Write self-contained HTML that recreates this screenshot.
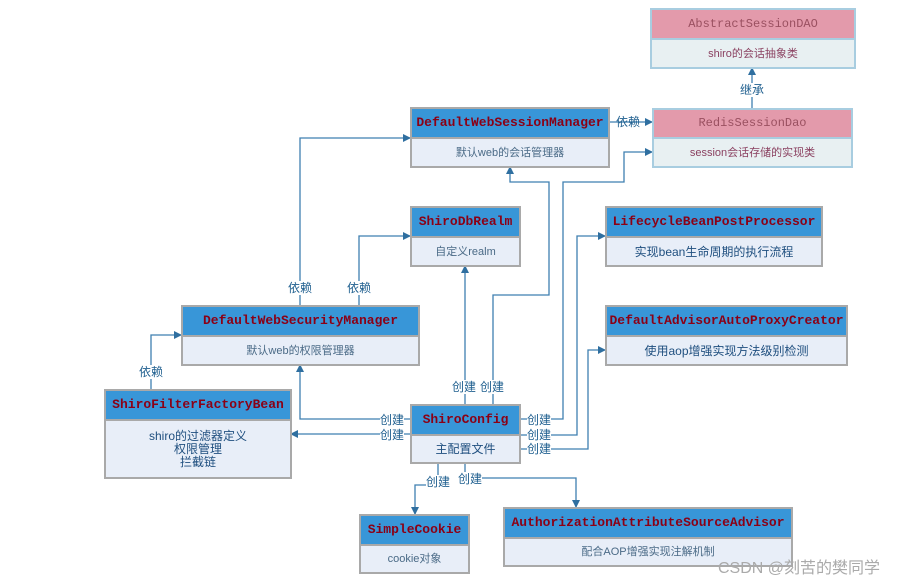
<!DOCTYPE html>
<html><head><meta charset="utf-8"><style>
body{margin:0;width:924px;height:585px;background:#fff;position:relative;overflow:hidden;font-family:"Liberation Sans","Noto Sans CJK SC",sans-serif}
.b{position:absolute;box-sizing:border-box;border:2px solid #a9a9a9;background:#e8eef8}
.b .h{background:#3896d8;color:#8b0015;font:bold 13px "Liberation Mono","Noto Sans CJK SC",monospace;text-align:center;white-space:nowrap;border-bottom:2px solid #a9a9a9;box-sizing:border-box}
.b .t{color:#4a6a86;font-size:11px;text-align:center;line-height:13px}
.p{border-color:#a8cde0;background:#e8f0f2}
.p .h{background:#e39aab;color:#9a5060;font:12px "Liberation Mono",monospace;border-bottom-color:#a8cde0}
.p .t{color:#8a4060}
.l{position:absolute;color:#1f5f8f;font-size:12px;background:#fff;line-height:14px;white-space:nowrap}
</style></head><body>
<svg width="924" height="585" style="position:absolute;left:0;top:0">
<defs><marker id="a" markerWidth="8" markerHeight="8" refX="7" refY="4" orient="auto" markerUnits="userSpaceOnUse"><path d="M0,0 L8,4 L0,8 z" fill="#2f6fa0"/></marker></defs>
<g fill="none" stroke="#3f7fb0" stroke-width="1.3" marker-end="url(#a)">
<path d="M465,404 V266"/>
<path d="M493,404 V295 H549 V182 H510 V167"/>
<path d="M520,419 H563 V182 H624 V152 H652"/>
<path d="M520,435 H577 V236 H605"/>
<path d="M520,449 H588 V350 H605"/>
<path d="M410,419 H300 V365"/>
<path d="M410,434 H291"/>
<path d="M151,389 V335 H181"/>
<path d="M300,305 V138 H410"/>
<path d="M359,305 V236 H410"/>
<path d="M609,122 H652"/>
<path d="M752,108 V68"/>
<path d="M438,463 V485 H415 V514"/>
<path d="M465,463 V478 H576 V507"/>
</g></svg>

<div class="b p" style="left:650px;top:8px;width:206px;height:61px"><div class="h" style="height:30px;line-height:28px">AbstractSessionDAO</div><div class="t" style="line-height:28px">shiro的会话抽象类</div></div>
<div class="b p" style="left:652px;top:108px;width:201px;height:60px"><div class="h" style="height:29px;line-height:27px">RedisSessionDao</div><div class="t" style="line-height:28px">session会话存储的实现类</div></div>
<div class="b" style="left:410px;top:107px;width:200px;height:61px"><div class="h" style="height:30px;line-height:28px">DefaultWebSessionManager</div><div class="t" style="line-height:28px">默认web的会话管理器</div></div>
<div class="b" style="left:410px;top:206px;width:111px;height:61px"><div class="h" style="height:30px;line-height:28px">ShiroDbRealm</div><div class="t" style="line-height:28px">自定义realm</div></div>
<div class="b" style="left:605px;top:206px;width:218px;height:61px"><div class="h" style="height:30px;line-height:28px">LifecycleBeanPostProcessor</div><div class="t" style="line-height:28px;font-size:12px;color:#1f4f7f">实现bean生命周期的执行流程</div></div>
<div class="b" style="left:605px;top:305px;width:243px;height:61px"><div class="h" style="height:30px;line-height:28px">DefaultAdvisorAutoProxyCreator</div><div class="t" style="line-height:28px;font-size:12px;color:#1f4f7f">使用aop增强实现方法级别检测</div></div>
<div class="b" style="left:181px;top:305px;width:239px;height:61px"><div class="h" style="height:30px;line-height:28px">DefaultWebSecurityManager</div><div class="t" style="line-height:28px">默认web的权限管理器</div></div>
<div class="b" style="left:104px;top:389px;width:188px;height:90px"><div class="h" style="height:30px;line-height:28px">ShiroFilterFactoryBean</div><div class="t" style="padding-top:9px;font-size:12px;color:#1f4f7f">shiro的过滤器定义<br>权限管理<br>拦截链</div></div>
<div class="b" style="left:410px;top:404px;width:111px;height:60px"><div class="h" style="height:30px;line-height:28px">ShiroConfig</div><div class="t" style="line-height:27px;font-size:12px;color:#1f4f7f">主配置文件</div></div>
<div class="b" style="left:359px;top:514px;width:111px;height:60px"><div class="h" style="height:30px;line-height:28px">SimpleCookie</div><div class="t" style="line-height:27px">cookie对象</div></div>
<div class="b" style="left:503px;top:507px;width:290px;height:60px"><div class="h" style="height:30px;line-height:28px">AuthorizationAttributeSourceAdvisor</div><div class="t" style="line-height:27px">配合AOP增强实现注解机制</div></div>

<div class="l" style="left:616px;top:115px;background:none">依赖</div>
<div class="l" style="left:740px;top:83px">继承</div>
<div class="l" style="left:288px;top:281px">依赖</div>
<div class="l" style="left:347px;top:281px">依赖</div>
<div class="l" style="left:139px;top:365px">依赖</div>
<div class="l" style="left:452px;top:380px">创建</div>
<div class="l" style="left:480px;top:380px">创建</div>
<div class="l" style="left:380px;top:413px">创建</div>
<div class="l" style="left:380px;top:428px">创建</div>
<div class="l" style="left:527px;top:413px">创建</div>
<div class="l" style="left:527px;top:428px">创建</div>
<div class="l" style="left:527px;top:442px">创建</div>
<div class="l" style="left:426px;top:475px">创建</div>
<div class="l" style="left:458px;top:472px">创建</div>
<div style="position:absolute;left:718px;top:554px;font-size:16px;color:#aaa;white-space:nowrap">CSDN @刻苦的樊同学</div>
</body></html>
